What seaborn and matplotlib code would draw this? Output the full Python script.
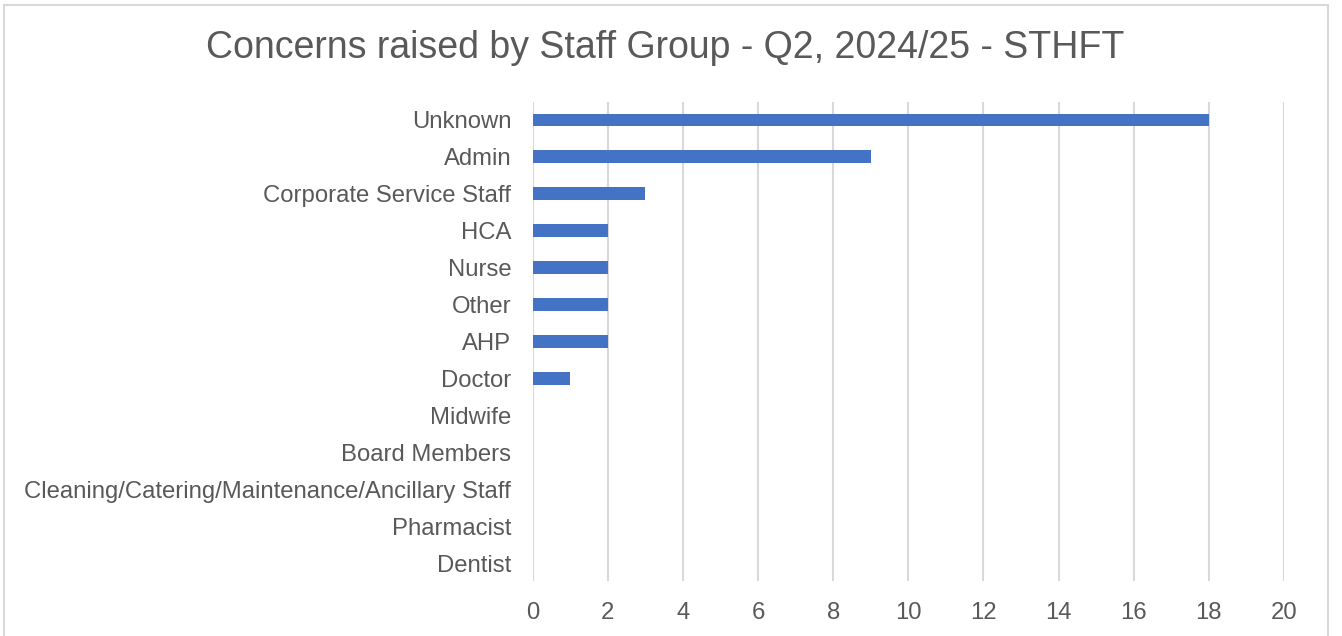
import matplotlib
matplotlib.use("Agg")
import matplotlib.pyplot as plt
from matplotlib.patches import Rectangle
import seaborn as sns
import pandas as pd

categories = ["Unknown", "Admin", "Corporate Service Staff", "HCA", "Nurse", "Other",
              "AHP", "Doctor", "Midwife", "Board Members",
              "Cleaning/Catering/Maintenance/Ancillary Staff", "Pharmacist", "Dentist"]
concerns = [18, 9, 3, 2, 2, 2, 2, 1, 0, 0, 0, 0, 0]
x_ticks = [0, 2, 4, 6, 8, 10, 12, 14, 16, 18, 20]

df = pd.DataFrame({"group": categories, "count": concerns})

sns.set_theme(style="white")
plt.rcParams["font.family"] = ["Liberation Sans", "DejaVu Sans"]

text_color = "#595959"
grid_color = "#d9d9d9"

fig = plt.figure(figsize=(13.42, 6.36), dpi=100)
ax = fig.add_axes([0.397, 0.0857, 0.5597, 0.7547])

sns.barplot(data=df, x="count", y="group", order=categories, orient="h",
            color="#4472C4", saturation=1, width=0.35, linewidth=0,
            ax=ax, zorder=3)

ax.set_xlim(0, 20)
ax.set_xticks(x_ticks)
ax.set_xticklabels([str(t) for t in x_ticks])
ax.set_ylim(len(categories) - 0.5, -0.5)
ax.xaxis.grid(True, color=grid_color, linewidth=1.5, zorder=0)
ax.set_axisbelow(True)
for s in ax.spines.values():
    s.set_visible(False)
ax.tick_params(axis="both", length=0, labelsize=17.2, colors=text_color)
ax.tick_params(axis="x", pad=14.5)
ax.tick_params(axis="y", pad=15.5)
ax.set_xlabel("")
ax.set_ylabel("")

fig.text(0.4955, 0.925, "Concerns raised by Staff Group - Q2, 2024/25 - STHFT",
         ha="center", va="center", fontsize=27, color=text_color)

fig.patches.append(Rectangle((4 / 1342, -0.05), 1324 / 1342, 1.05 - 5 / 636,
                             transform=fig.transFigure, fill=False,
                             edgecolor=grid_color, linewidth=1.5))

fig.savefig("out.png", dpi=100, facecolor="white")
